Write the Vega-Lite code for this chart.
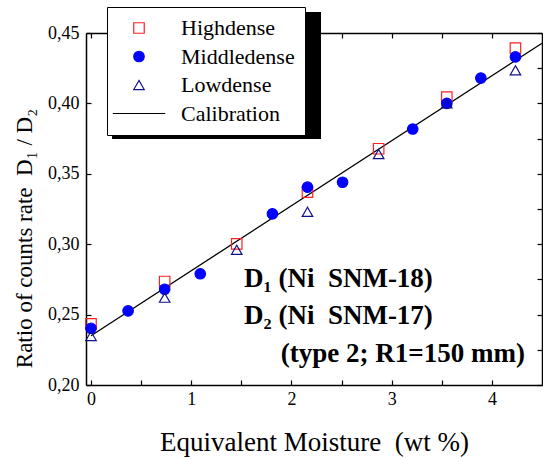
{
  "$schema": "https://vega.github.io/schema/vega-lite/v6.json",
  "width": 456,
  "height": 352,
  "autosize": {"type": "none"},
  "padding": {"left": 86, "top": 33, "right": 1, "bottom": 74},
  "background": "white",
  "datasets": {
    "points": [
      {"series": "Highdense", "x": 0, "y": 0.2434},
      {"series": "Highdense", "x": 0.735, "y": 0.2735},
      {"series": "Highdense", "x": 1.454, "y": 0.3002},
      {"series": "Highdense", "x": 2.16, "y": 0.337},
      {"series": "Highdense", "x": 2.87, "y": 0.3678},
      {"series": "Highdense", "x": 3.55, "y": 0.4045},
      {"series": "Highdense", "x": 4.235, "y": 0.4393},
      {"series": "Middledense", "x": 0, "y": 0.2403},
      {"series": "Middledense", "x": 0.37, "y": 0.2526},
      {"series": "Middledense", "x": 0.735, "y": 0.268},
      {"series": "Middledense", "x": 1.09, "y": 0.279},
      {"series": "Middledense", "x": 1.81, "y": 0.3216},
      {"series": "Middledense", "x": 2.16, "y": 0.3405},
      {"series": "Middledense", "x": 2.51, "y": 0.344},
      {"series": "Middledense", "x": 3.21, "y": 0.3818},
      {"series": "Middledense", "x": 3.55, "y": 0.4},
      {"series": "Middledense", "x": 3.89, "y": 0.418},
      {"series": "Middledense", "x": 4.235, "y": 0.433},
      {"series": "Lowdense", "x": 0, "y": 0.2348},
      {"series": "Lowdense", "x": 0.735, "y": 0.262},
      {"series": "Lowdense", "x": 1.454, "y": 0.296},
      {"series": "Lowdense", "x": 2.16, "y": 0.323},
      {"series": "Lowdense", "x": 2.87, "y": 0.364},
      {"series": "Lowdense", "x": 3.55, "y": 0.4},
      {"series": "Lowdense", "x": 4.235, "y": 0.4235}
    ],
    "calib": [
      {"x": 0, "y": 0.235},
      {"x": 4.5, "y": 0.4427}
    ],
    "one": [{"k": 1}]
  },
  "config": {
    "view": {"stroke": null},
    "font": "Liberation Serif",
    "axis": {
      "grid": false,
      "domainColor": "black",
      "domainWidth": 1.5,
      "tickColor": "black",
      "tickWidth": 1.2,
      "tickSize": -5,
      "labelColor": "black",
      "labelFont": "Liberation Serif",
      "labelFontSize": 18,
      "titleFont": "Liberation Serif",
      "titleFontSize": 27,
      "titleFontWeight": "normal",
      "titleColor": "black"
    },
    "legend": {
      "orient": "none",
      "legendX": 21,
      "legendY": -26,
      "padding": 10,
      "symbolOffset": 11,
      "labelOffset": 31,
      "labelFont": "Liberation Serif",
      "labelFontSize": 22,
      "labelColor": "black",
      "labelLimit": 300,
      "strokeColor": "black",
      "fillColor": "white",
      "rowPadding": 6.5,
      "symbolSize": 110,
      "symbolStrokeWidth": 1.2
    }
  },
  "resolve": {"scale": {"x": "independent", "y": "independent"}},
  "layer": [
    {
      "layer": [
        {
          "data": {"name": "one"},
          "mark": {"type": "rect", "fill": "black", "clip": false},
          "encoding": {
            "x": {"datum": 0.21, "type": "quantitative"},
            "x2": {"datum": 2.295},
            "y": {"datum": 0.3747, "type": "quantitative"},
            "y2": {"datum": 0.4649}
          }
        },
        {
          "data": {"name": "calib"},
          "mark": {"type": "line", "color": "black", "strokeWidth": 1.3, "clip": true},
          "encoding": {
            "x": {"field": "x", "type": "quantitative"},
            "y": {"field": "y", "type": "quantitative"}
          }
        },
        {
          "data": {"name": "points"},
          "mark": {"type": "point", "size": 110, "strokeWidth": 1.2, "opacity": 1, "filled": false},
          "encoding": {
            "x": {
              "field": "x",
              "type": "quantitative",
              "scale": {"domain": [-0.05, 4.5], "nice": false, "zero": false},
              "axis": {
                "title": "Equivalent Moisture\u00a0 (wt %)",
                "values": [0, 0.5, 1, 1.5, 2, 2.5, 3, 3.5, 4],
                "labelExpr": "datum.value % 1 === 0 ? format(datum.value, 'd') : ''",
                "labelPadding": 10,
                "titlePadding": 21
              }
            },
            "y": {
              "field": "y",
              "type": "quantitative",
              "scale": {"domain": [0.2, 0.45], "nice": false, "zero": false},
              "axis": {
                "title": "Ratio of counts rate\u00a0 D₁ / D₂",
                "values": [0.2, 0.225, 0.25, 0.275, 0.3, 0.325, 0.35, 0.375, 0.4, 0.425, 0.45],
                "labelExpr": "abs(datum.value * 20 - round(datum.value * 20)) < 0.001 ? replace(format(datum.value, '.2f'), '.', ',') : ''",
                "labelPadding": 12,
                "titleFontSize": 23,
                "titleX": -55,
                "titleY": 205,
                "titleAlign": "center",
                "titleBaseline": "alphabetic"
              }
            },
            "shape": {
              "field": "series",
              "type": "nominal",
              "scale": {"domain": ["Highdense", "Middledense", "Lowdense", "Calibration"], "range": ["square", "circle", "triangle-up", "M-5,0L5,0"]},
              "legend": {"title": null}
            },
            "stroke": {
              "field": "series",
              "type": "nominal",
              "scale": {"domain": ["Highdense", "Middledense", "Lowdense", "Calibration"], "range": ["#ff2020", "#0000ff", "#10108a", "#000000"]},
              "legend": {"title": null}
            },
            "fill": {
              "field": "series",
              "type": "nominal",
              "scale": {"domain": ["Highdense", "Middledense", "Lowdense", "Calibration"], "range": ["transparent", "#0000ff", "transparent", "transparent"]},
              "legend": {"title": null}
            }
          }
        },
        {
          "data": {"name": "one"},
          "mark": {"type": "text", "font": "Liberation Serif", "fontWeight": "bold", "fontSize": 27, "align": "left", "baseline": "alphabetic", "color": "black"},
          "encoding": {
            "x": {"datum": 1.527, "type": "quantitative"},
            "y": {"datum": 0.2696, "type": "quantitative"},
            "text": {"value": "D₁ (Ni\u00a0 SNM-18)"}
          }
        },
        {
          "data": {"name": "one"},
          "mark": {"type": "text", "font": "Liberation Serif", "fontWeight": "bold", "fontSize": 27, "align": "left", "baseline": "alphabetic", "color": "black"},
          "encoding": {
            "x": {"datum": 1.527, "type": "quantitative"},
            "y": {"datum": 0.2433, "type": "quantitative"},
            "text": {"value": "D₂ (Ni\u00a0 SNM-17)"}
          }
        },
        {
          "data": {"name": "one"},
          "mark": {"type": "text", "font": "Liberation Serif", "fontWeight": "bold", "fontSize": 27, "align": "right", "baseline": "alphabetic", "color": "black"},
          "encoding": {
            "x": {"datum": 4.33, "type": "quantitative"},
            "y": {"datum": 0.2163, "type": "quantitative"},
            "text": {"value": "(type 2; R1=150 mm)"}
          }
        }
      ]
    },
    {
      "data": {"name": "calib"},
      "mark": {"type": "point", "opacity": 0},
      "encoding": {
        "x": {
          "field": "x",
          "type": "quantitative",
          "scale": {"domain": [-0.05, 4.5], "nice": false, "zero": false},
          "axis": {"orient": "top", "title": null, "labels": false, "values": [0, 0.5, 1, 1.5, 2, 2.5, 3, 3.5, 4]}
        },
        "y": {
          "field": "y",
          "type": "quantitative",
          "scale": {"domain": [0.2, 0.45], "nice": false, "zero": false},
          "axis": {"orient": "right", "title": null, "labels": false, "values": [0.2, 0.225, 0.25, 0.275, 0.3, 0.325, 0.35, 0.375, 0.4, 0.425, 0.45]}
        }
      }
    }
  ]
}
